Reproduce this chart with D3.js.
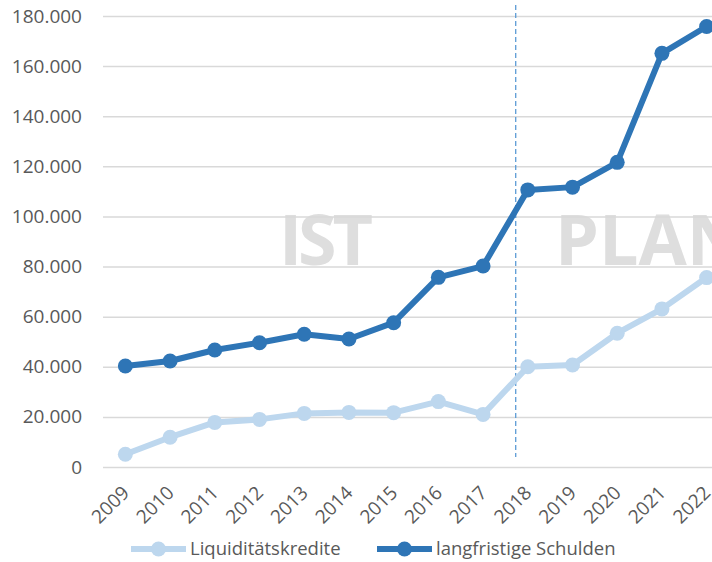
<!DOCTYPE html>
<html>
<head>
<meta charset="utf-8">
<script src="https://cdn.jsdelivr.net/npm/d3@7"></script>
<style>
  body { margin: 0; background: #fff; }
  svg { display: block; font-family: "Open Sans", sans-serif; }
</style>
</head>
<body>
<div class="chart"></div>
<script>
// chart data
const years = [2009, 2010, 2011, 2012, 2013, 2014, 2015, 2016, 2017, 2018, 2019, 2020, 2021, 2022]
const liquiditaet = [5100, 11900, 17800, 19000, 21400, 21800, 21700, 26100, 21000, 40000, 40700, 53400, 63100, 75600]
const langfristig = [40300, 42300, 46700, 49600, 53000, 51100, 57600, 75700, 80200, 110600, 111700, 121600, 165100, 175800]
const yTicks = [0, 20000, 40000, 60000, 80000, 100000, 120000, 140000, 160000, 180000]
const seriesNames = ["Liquiditätskredite", "langfristige Schulden"]
const planStart = 2017.73 // where the IST / PLAN divider sits

const colors = ["#bdd7ee", "#2e75b6"]

const width = 712
const height = 562
const margin = { top: 16, left: 103, right: -17, bottom: 95 }

const de = d3.formatLocale({ decimal: ",", thousands: ".", grouping: [3], currency: ["", " €"] })
const fmt = de.format(",d")

const svg = d3.select(".chart")
  .append("svg")
  .attr("width", width)
  .attr("height", height)

// scales
const x = d3.scalePoint()
  .domain(years)
  .range([margin.left, width - margin.right])
  .padding(0.5)

const yearX = d3.scaleLinear()
  .domain([years[0], years[years.length - 1]])
  .range([x(years[0]), x(years[years.length - 1])])

const y = d3.scaleLinear()
  .domain([0, 180000])
  .range([height - margin.bottom, margin.top])

// watermark text
svg.append("text")
  .attr("x", 279)
  .attr("y", 265)
  .attr("fill", "#dedede")
  .style("font-size", "70px")
  .style("font-weight", "bold")
  .attr("textLength", 94)
  .text("IST")

svg.append("text")
  .attr("x", 555)
  .attr("y", 265)
  .attr("fill", "#dedede")
  .style("font-size", "70px")
  .style("font-weight", "bold")
  .text("PLAN")

// gridlines + y labels
const yAxis = d3.axisLeft(y)
  .tickValues(yTicks)
  .tickFormat(fmt)
  .tickSize(-(width - margin.left - margin.right))
  .tickPadding(21)

svg.append("g")
  .attr("class", "y-axis")
  .attr("transform", "translate(" + margin.left + ",0)")
  .call(yAxis)
  .call(g => g.select(".domain").remove())
  .call(g => g.selectAll(".tick line").attr("stroke", "#d9d9d9").attr("stroke-width", 1.5))
  .call(g => g.selectAll(".tick text")
    .attr("fill", "#595959")
    .style("font-size", "19px")
    .style("font-family", "'Open Sans', sans-serif"))

// x labels
svg.append("g")
  .selectAll("text")
  .data(years)
  .join("text")
  .attr("transform", d => "translate(" + (x(d) + 5) + "," + 494 + ") rotate(-45)")
  .attr("text-anchor", "end")
  .attr("fill", "#595959")
  .style("font-size", "19px")
  .text(d => d)

// IST / PLAN divider
svg.append("line")
  .attr("x1", yearX(planStart))
  .attr("x2", yearX(planStart))
  .attr("y1", 5)
  .attr("y2", 457)
  .attr("stroke", "#5b9bd5")
  .attr("stroke-width", 1.3)
  .attr("stroke-dasharray", "5,3")

// series
const series = [liquiditaet, langfristig]
const line = d3.line()
  .x((d, i) => x(years[i]))
  .y(d => y(d))

series.forEach((vals, k) => {
  svg.append("path")
    .datum(vals)
    .attr("d", line)
    .attr("fill", "none")
    .attr("stroke", colors[k])
    .attr("stroke-width", 6)
    .attr("stroke-linejoin", "round")

  svg.append("g")
    .selectAll("circle")
    .data(vals)
    .join("circle")
    .attr("cx", (d, i) => x(years[i]))
    .attr("cy", d => y(d))
    .attr("r", 7.5)
    .attr("fill", colors[k])
})

// legend
const legendX = [131, 377]
seriesNames.forEach((name, k) => {
  const g = svg.append("g").attr("transform", "translate(" + legendX[k] + ",549)")
  g.append("line")
    .attr("x1", 0).attr("x2", 55)
    .attr("stroke", colors[k])
    .attr("stroke-width", 6)
  g.append("circle")
    .attr("cx", 27.5)
    .attr("r", 7.5)
    .attr("fill", colors[k])
  g.append("text")
    .attr("x", 59)
    .attr("dy", "0.35em")
    .attr("fill", "#595959")
    .style("font-size", "18.5px")
    .text(name)
})
</script>
</body>
</html>
